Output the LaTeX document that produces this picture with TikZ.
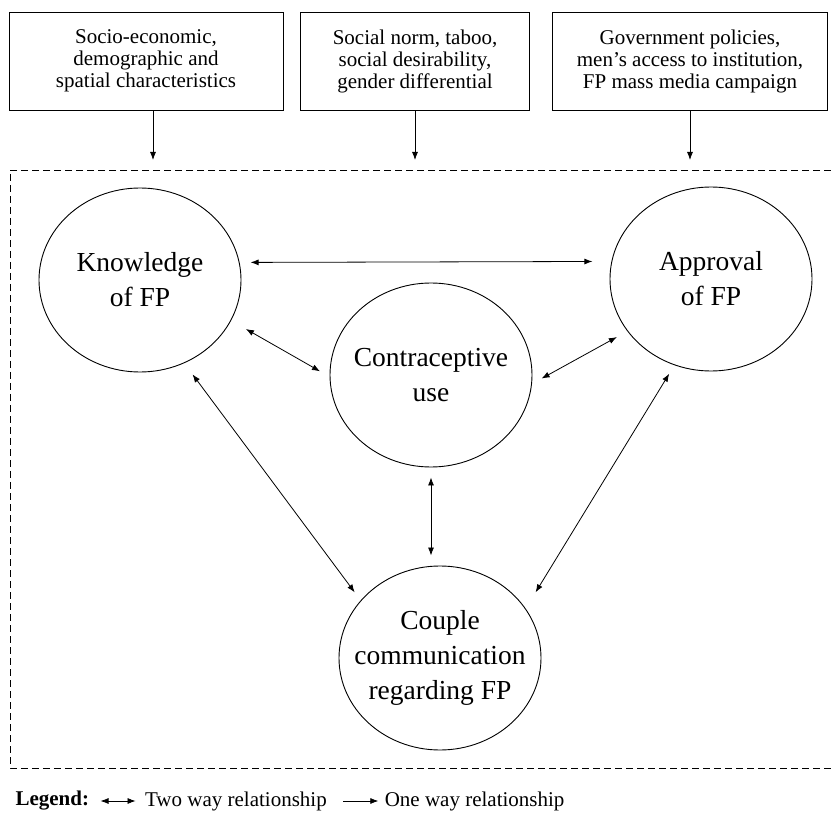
\documentclass[tikz,border=0pt]{standalone}
\usepackage{fontspec}
\setmainfont{Liberation Serif}
\usetikzlibrary{shapes.geometric,arrows.meta,positioning}
\begin{document}
\begin{tikzpicture}[
    x=1pt,
    y=-1pt,
    factor/.style={
      draw,
      rectangle,
      line width=0.8pt,
      minimum height=98pt,
      inner sep=0pt,
      align=center,
      font=\fontsize{21}{22}\selectfont
    },
    bubble/.style={
      draw,
      ellipse,
      line width=0.9pt,
      minimum width=202pt,
      minimum height=184pt,
      inner sep=0pt
    },
    bubbletext/.style={
      align=center,
      font=\fontsize{27.5}{35}\selectfont
    },
    twoway/.style={
      {Latex[length=8pt,width=6pt]}-{Latex[length=8pt,width=6pt]},
      line width=0.8pt
    },
    oneway/.style={
      -{Latex[length=8pt,width=6pt]},
      line width=0.8pt
    }
  ]

  \useasboundingbox (0,0) rectangle (831,813);

  % three boxes on top
  \node (socio) at (146,61) [factor,minimum width=274pt]{Socio-economic,\\demographic and\\spatial characteristics};
  \node (norm) at (415,61) [factor,minimum width=229pt]{Social norm, taboo,\\social desirability,\\gender differential};
  \node (policy) at (690,61) [factor,minimum width=275pt]{Government policies,\\men's access to institution,\\FP mass media campaign};

  % dashed frame, open on the right
  \coordinate (ftop) at (10,170);
  \coordinate (fbot) at (10,768);
  \draw[dashed,dash pattern=on 7pt off 4pt,line width=0.8pt] (831,170) -- (ftop) -- (fbot) -- (831,768);

  \coordinate (sociout) at ([xshift=7pt]socio.south);
  \draw[oneway,shorten >=10pt] (sociout) -- (sociout |- ftop);
  \draw[oneway,shorten >=10pt] (norm.south) -- (norm.south |- ftop);
  \draw[oneway,shorten >=10pt] (policy.south) -- (policy.south |- ftop);

  % the four bubbles
  \node (know) at (140,280) [bubble,label={[bubbletext]center:Knowledge\\of FP}]{};
  \node (appr) at (711,279) [bubble,label={[bubbletext]center:Approval\\of FP}]{};
  \node (contra) at (431,375) [bubble,label={[bubbletext]center:Contraceptive\\use}]{};
  \node (couple) at (440,658) [bubble,label={[bubbletext]center:Couple\\communication\\regarding FP}]{};

  \draw[twoway,shorten <=11pt,shorten >=19pt] (know.10) -- (appr.170);
  \draw[twoway,shorten <=17pt,shorten >=11pt] (know.-24) -- (contra.181);
  \draw[twoway,shorten <=12pt,shorten >=11pt] (appr.212) -- (contra.-5);
  \draw[twoway,shorten <=14pt,shorten >=10pt] (know.-62) -- (couple.144);
  \draw[twoway,shorten <=10pt,shorten >=19pt] (appr.-113) -- (couple.30);
  \draw[twoway,shorten <=10pt,shorten >=10pt] (contra.south) -- (contra.south |- couple.north);

  % legend
  \node (legend) at (12,801) [anchor=west,font=\fontsize{21}{22}\selectfont\bfseries]{Legend:};
  \coordinate[right=8pt of legend] (twoa);
  \coordinate[right=35pt of twoa] (twob);
  \node (twotext) [right=6pt of twob,font=\fontsize{21}{22}\selectfont]{Two way relationship};
  \coordinate[right=13pt of twotext] (onea);
  \coordinate[right=35pt of onea] (oneb);
  \node (onetext) [right=3pt of oneb,font=\fontsize{21}{22}\selectfont]{One way relationship};

  \draw[twoway,line width=0.7pt] (twoa) -- (twob);
  \draw[oneway,line width=0.7pt] (onea) -- (oneb);

\end{tikzpicture}
\end{document}
